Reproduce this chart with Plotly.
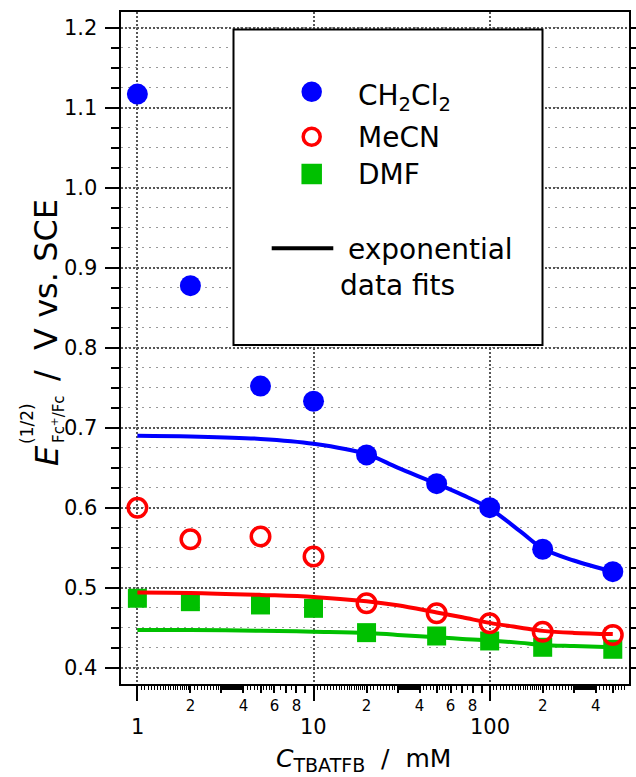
import numpy as np
import plotly.graph_objects as go

# ---------------- data ----------------
conc = [1, 2, 5, 10, 20, 50, 100, 200, 500]
e_ch2cl2 = [1.117, 0.8775, 0.752, 0.733, 0.666, 0.630, 0.600, 0.548, 0.520]
e_mecn = [0.600, 0.5605, 0.564, 0.539, 0.4805, 0.468, 0.4555, 0.445, 0.441]
e_dmf = [0.4868, 0.4825, 0.4784, 0.4742, 0.4438, 0.4396, 0.4334, 0.4255, 0.423]

fit_conc = [1, 2, 5, 10, 20, 30, 50, 70, 100, 150, 200, 300, 500]
fit_ch2cl2 = [0.690, 0.689, 0.686, 0.680, 0.667, 0.650, 0.630, 0.616, 0.599, 0.570, 0.549, 0.534, 0.520]
fit_mecn = [0.494, 0.4935, 0.491, 0.4885, 0.483, 0.478, 0.469, 0.463, 0.456, 0.450, 0.446, 0.4435, 0.442]
fit_dmf = [0.4472, 0.447, 0.4462, 0.445, 0.4435, 0.441, 0.438, 0.436, 0.434, 0.431, 0.4285, 0.427, 0.4255]

y_ticks = [0.4, 0.5, 0.6, 0.7, 0.8, 0.9, 1.0, 1.1, 1.2]
y_ticktext = ["0.4", "0.5", "0.6", "0.7", "0.8", "0.9", "1.0", "1.1", "1.2"]
x_major = [1, 10, 100]
x_major_text = ["1", "10", "100"]
x_mid_labeled = [2, 4, 6, 8, 20, 40, 60, 80, 200, 400]
x_mid_labeled_text = ["2", "4", "6", "8", "2", "4", "6", "8", "2", "4"]
x_mid_unlabeled = [3, 5, 7, 9, 30, 50, 70, 90, 300, 500]

BLUE = "#0000FF"
RED = "#FF0000"
GREEN = "#00C000"
FONT = "DejaVu Sans"

# tiny minor tick positions on the log axis
tiny = []
for dec in [1, 10, 100]:
    for a, b, s in [(1, 2, 0.05), (2, 3, 0.1), (3, 4, 0.04), (4, 6, 0.2), (6, 8, 0.5)]:
        for v in np.arange(a, b, s):
            if abs(v - round(v)) > 1e-6:
                tiny.append(round(v * dec, 4))
tiny = [t for t in tiny if t < 600]

# plot area in pixels
L, R, T, B = 121, 629, 12, 684
W, H = 636, 777


def px(x):
    return (x - L) / (R - L)


def py(y):
    return (B - y) / (B - T)


fig = go.Figure()

fig.add_trace(go.Scatter(x=conc, y=e_dmf, mode="markers", name="DMF",
                         marker=dict(symbol="square", size=19, color=GREEN, line=dict(width=0))))
fig.add_trace(go.Scatter(x=fit_conc, y=fit_dmf, mode="lines", line=dict(color=GREEN, width=4, shape="spline"),
                         showlegend=False))
fig.add_trace(go.Scatter(x=conc, y=e_mecn, mode="markers", name="MeCN",
                         marker=dict(symbol="circle-open", size=18.5, color=RED, line=dict(width=3.5, color=RED))))
fig.add_trace(go.Scatter(x=fit_conc, y=fit_mecn, mode="lines", line=dict(color=RED, width=4, shape="spline"),
                         showlegend=False))
fig.add_trace(go.Scatter(x=conc, y=e_ch2cl2, mode="markers", name="CH2Cl2",
                         marker=dict(symbol="circle", size=21, color=BLUE, line=dict(width=0))))
fig.add_trace(go.Scatter(x=fit_conc, y=fit_ch2cl2, mode="lines", line=dict(color=BLUE, width=4, shape="spline"),
                         showlegend=False))
# empty trace to register the secondary (mid-tick) x axis
fig.add_trace(go.Scatter(x=[], y=[], xaxis="x2", yaxis="y", showlegend=False, hoverinfo="skip"))

xr = [-0.093, 2.791]
yr = [0.3796, 1.2196]

fig.update_layout(
    width=W, height=H, autosize=False,
    margin=dict(l=L, r=W - R, t=T, b=H - B, pad=0, autoexpand=False),
    paper_bgcolor="white", plot_bgcolor="white",
    showlegend=False,
    font=dict(family=FONT, color="black"),
    xaxis=dict(
        type="log", range=xr, tickmode="array", tickvals=x_major, ticktext=x_major_text,
        showticklabels=False,
        ticks="outside", ticklen=15, tickwidth=2, tickcolor="black",
        showline=True, linewidth=2, linecolor="black", mirror=True,
        showgrid=True, gridcolor="#555555", gridwidth=1.5, griddash="2px,2px",
        zeroline=False, automargin=False,
        minor=dict(tickmode="array", tickvals=tiny, ticks="outside", ticklen=4, tickwidth=1,
                   tickcolor="black", showgrid=False),
    ),
    xaxis2=dict(
        type="log", range=xr, overlaying="x", anchor="y", side="bottom",
        tickmode="array", tickvals=x_mid_labeled, ticktext=x_mid_labeled_text,
        ticks="outside", ticklen=8, tickwidth=1.5, tickcolor="black",
        tickfont=dict(size=15, family=FONT),
        showline=False, showgrid=False, zeroline=False, automargin=False,
        minor=dict(tickmode="array", tickvals=x_mid_unlabeled, ticks="outside", ticklen=8,
                   tickwidth=1.5, tickcolor="black", showgrid=False),
    ),
    yaxis=dict(
        range=yr, tickmode="array", tickvals=y_ticks, ticktext=y_ticktext,
        showticklabels=False,
        ticks="outside", ticklen=14, tickwidth=2, tickcolor="black",
        showline=True, linewidth=2, linecolor="black", mirror="ticks",
        showgrid=True, gridcolor="#555555", gridwidth=1.5, griddash="2px,2px",
        zeroline=False, automargin=False,
        minor=dict(tick0=0.4, dtick=0.025, ticks="outside", ticklen=8, tickwidth=1.5,
                   tickcolor="black", showgrid=True, gridcolor="#9a9a9a", gridwidth=1,
                   griddash="2px,5px"),
    ),
)

# ---------------- legend box (drawn manually) ----------------
shapes = []
shapes.append(dict(type="rect", xref="paper", yref="paper",
                   x0=px(233.5), x1=px(542.5), y0=py(345), y1=py(29.5),
                   line=dict(color="black", width=2), fillcolor="white", layer="above"))


def sym(kind, cx, cy, size, **kw):
    return dict(type=kind, xref="paper", yref="paper", xsizemode="pixel", ysizemode="pixel",
                xanchor=px(cx), yanchor=py(cy), x0=-size / 2, x1=size / 2, y0=-size / 2, y1=size / 2,
                layer="above", **kw)


shapes.append(sym("circle", 311.7, 91.7, 20.5, fillcolor=BLUE, line=dict(width=0)))
shapes.append(sym("circle", 311.7, 136.7, 17, fillcolor="white", line=dict(color=RED, width=3.5)))
shapes.append(sym("rect", 311.7, 174, 20.5, fillcolor=GREEN, line=dict(width=0)))
shapes.append(dict(type="line", xref="paper", yref="paper", x0=px(271.7), x1=px(333.3),
                   y0=py(248.3), y1=py(248.3), line=dict(color="black", width=4), layer="above"))
fig.update_layout(shapes=shapes)

ann = []


def text(t, x, y, size, xanchor="left", yanchor="middle", angle=0):
    ann.append(dict(text=t, xref="paper", yref="paper", x=px(x), y=py(y), xanchor=xanchor,
                    yanchor=yanchor, showarrow=False, font=dict(size=size, family=FONT, color="black"),
                    textangle=angle, borderpad=0))


# y tick labels, placed through the y axis scale
for v, t in zip(y_ticks, y_ticktext):
    ann.append(dict(text=t, xref="paper", yref="y", x=px(98), y=v, xanchor="right", yanchor="middle",
                    showarrow=False, font=dict(size=21, family=FONT, color="black"), borderpad=0))

# main decade labels of the log x axis (annotation x is log10 on log axes)
for v, t in zip(x_major, x_major_text):
    ann.append(dict(text=t, xref="x", yref="paper", x=float(np.log10(v)), y=py(727),
                    xanchor="center", yanchor="middle", showarrow=False,
                    font=dict(size=21, family=FONT, color="black"), borderpad=0))

text("CH<sub>2</sub>Cl<sub>2</sub>", 357, 97, 28)
text("MeCN", 357, 137.5, 28)
text("DMF", 357, 174, 28)
text("exponential", 347, 250, 28)
text("data fits", 339, 285, 28)

# x axis title
text("<i>C</i><sub><span style='font-size:19px'>TBATFB</span></sub>\u00a0\u00a0/\u00a0\u00a0mM",
     363.5, 760, 25, xanchor="center")

# y axis title (pieces)
text("<i>E</i>", 47, 456, 32, xanchor="center", angle=-90)
text("(1/2)", 27, 424, 17, xanchor="center", angle=-90)
text("Fc<sup>+</sup>/Fc", 58, 419, 15, xanchor="center", angle=-90)
text("/\u00a0\u00a0V vs. SCE", 46, 290, 32, xanchor="center", angle=-90)

fig.update_layout(annotations=ann)

fig.write_html("out.html", post_script="document.body.style.margin='0px';",
               config={"displayModeBar": False, "responsive": False},
               default_width="636px", default_height="777px")
